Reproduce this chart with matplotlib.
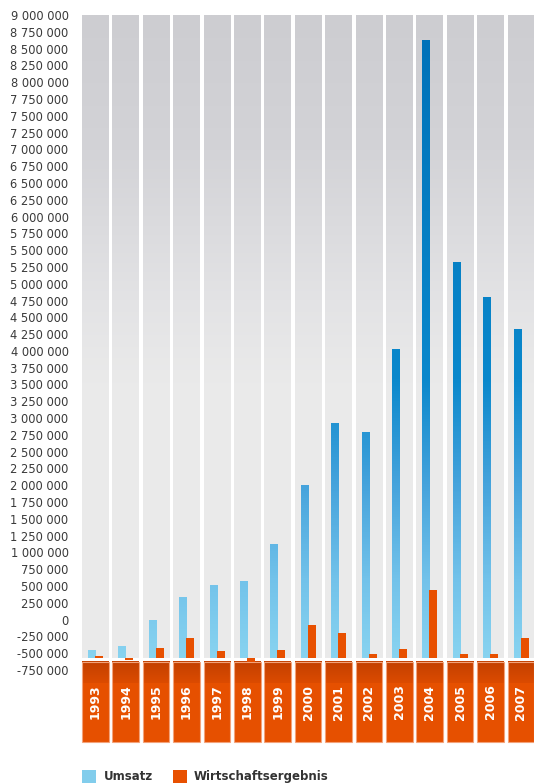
import numpy as np
import matplotlib.pyplot as plt
from matplotlib.colors import LinearSegmentedColormap, Normalize
from matplotlib.patches import Rectangle

"""
    Data (values as read on the y axis)
"""
years = ["1993", "1994", "1995", "1996", "1997", "1998", "1999", "2000",
         "2001", "2002", "2003", "2004", "2005", "2006", "2007"]

umsatz = [-450000, -390000, -10000, 340000, 505000, 565000, 1120000, 2000000,
          2920000, 2790000, 4020000, 8630000, 5320000, 4800000, 4320000]

wirtschaft = [-535000, -600000, -420000, -275000, -465000, -625000, -450000, -80000,
              -200000, -510000, -435000, 440000, -510000, -510000, -275000]

yticks = np.arange(-750000, 9000001, 250000)
ytick_labels = [f"{v:,}".replace(",", " ") for v in yticks]

"""
    Layout
"""
W, H = 534, 783
px_per_unit = 67.18e-6          # pixels per value unit
y_top = 9000000                 # value at the panel top
base = -567000                  # where the bars start
box_top = y_top - (662 - 15) / px_per_unit
box_split = y_top - (683 - 15) / px_per_unit
box_bottom = y_top - (742 - 15) / px_per_unit
y_min = y_top - (745 - 15) / px_per_unit

col_w = 0.878

fig = plt.figure(figsize=(W / 100, H / 100), dpi=100)
ax = fig.add_axes([80.15 / W, (H - 745) / H, 456 / W, 730 / H])
ax.set_xlim(-0.5, 14.5)
ax.set_ylim(y_min, y_top)
for s in ax.spines.values():
    s.set_visible(False)
ax.set_xticks([])
ax.set_yticks(yticks, ytick_labels)
ax.tick_params(axis="y", length=0, pad=8.3, labelsize=8.3, labelcolor="#3a3a3a")

gray_cmap = LinearSegmentedColormap.from_list(
    "gray", [(0, "#ebebeb"), (0.43, "#eaeaea"), (0.557, "#e3e3e5"),
             (0.79, "#d3d3d7"), (1, "#cdcdd1")])
blue_cmap = LinearSegmentedColormap.from_list(
    "blue", [(0, "#88d3f0"), (0.126, "#72c2ea"), (0.28, "#45a3dc"),
             (0.45, "#0a88cc"), (1, "#0072b9")])
box_cmap = LinearSegmentedColormap.from_list("box", ["#dc4b00", "#c24000"])

grad = np.linspace(0, 1, 256)[:, None]

x = np.arange(len(years))
for i in x:
    # gray column
    ax.imshow(grad, cmap=gray_cmap, aspect="auto", origin="lower",
              extent=(i - col_w / 2, i + col_w / 2, base, y_top), zorder=1)
    # year box
    ax.add_patch(Rectangle((i - col_w / 2, box_bottom), col_w, box_top - box_bottom,
                           facecolor="#e65000", edgecolor="none", zorder=1))
    ax.imshow(grad, cmap=box_cmap, aspect="auto", origin="lower",
              extent=(i - col_w / 2, i + col_w / 2, box_split, box_top), zorder=1.5)
    ax.add_patch(Rectangle((i - col_w / 2, box_bottom), col_w, box_top - box_bottom,
                           facecolor="none", edgecolor="#f3a27a", lw=0.8, zorder=2))
    ax.text(i, (box_top + box_bottom) / 2, years[i], rotation=90, ha="center",
            va="center", color="white", fontsize=9, fontweight="bold", zorder=3)

# Umsatz bars with vertical gradient
norm = Normalize(base, 8650000)
for i, v in zip(x, umsatz):
    vals = np.linspace(base, v, 256)[:, None]
    ax.imshow(vals, cmap=blue_cmap, norm=norm, aspect="auto", origin="lower",
              extent=(i - 0.242, i + 0.021, base, v), zorder=3)

# Wirtschaftsergebnis bars
ax.bar(x + 0.12, np.array(wirtschaft) - base, bottom=base, width=0.262,
       color="#e85000", zorder=4, clip_on=False)

"""
    Legend
"""
fig.add_artist(Rectangle((82 / W, 0), 14 / W, 13 / H, transform=fig.transFigure,
                         facecolor="#82cdec", edgecolor="none"))
fig.add_artist(Rectangle((173 / W, 0), 14 / W, 13 / H, transform=fig.transFigure,
                         facecolor="#e85000", edgecolor="none"))
fig.text(104 / W, 6.5 / H, "Umsatz", ha="left", va="center", fontsize=8.5,
         fontweight="bold", color="#333333")
fig.text(194 / W, 6.5 / H, "Wirtschaftsergebnis", ha="left", va="center", fontsize=8.5,
         fontweight="bold", color="#333333")

fig.savefig("out.png", dpi=100)
